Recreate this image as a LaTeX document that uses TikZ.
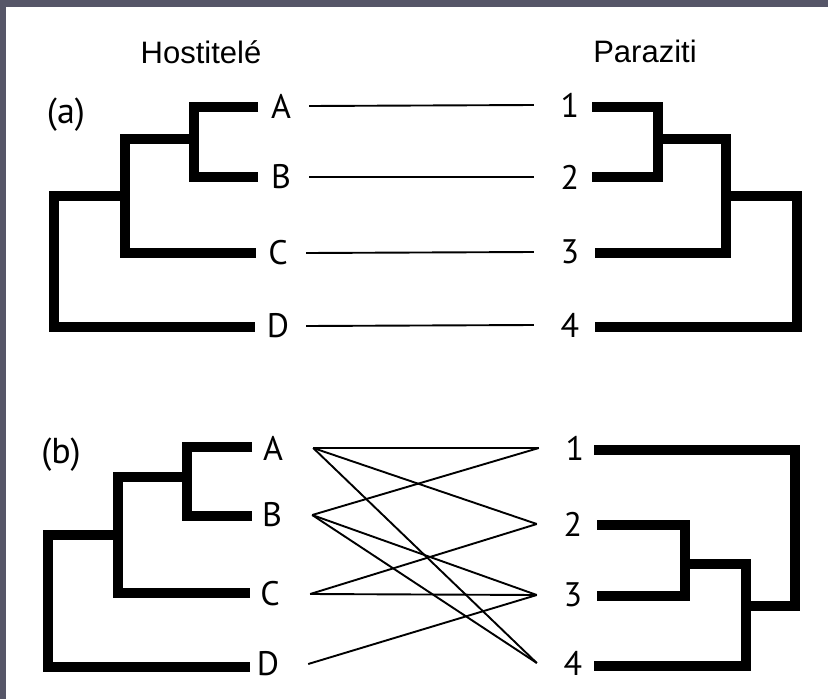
\documentclass[tikz,border=0pt]{standalone}
\usepackage{fontspec}
\setmainfont{PT Sans}
\newfontfamily\titlefont{Liberation Sans}
\definecolor{frame}{RGB}{86,86,104}
\tikzset{
  bar/.style={line width=10pt, line join=miter, line cap=butt, black},
  link/.style={line width=1.9pt, black},
  title/.style={font=\titlefont\fontsize{31}{34}\selectfont, inner sep=0pt},
  panel/.style={font=\fontsize{36}{40}\selectfont, inner sep=0pt},
  taxon/.style={font=\fontsize{34}{38}\selectfont, inner sep=0pt, minimum height=0pt},
  hostA/.style={taxon, minimum width=56pt},
  parA/.style={taxon, minimum width=72pt},
  hostB/.style={taxon, minimum width=80pt},
  parB/.style={taxon, minimum width=72pt}
}
\begin{document}
\begin{tikzpicture}[x=1pt, y=-1pt]
% page and frame
\fill[white] (0,0) rectangle (828,699);
\useasboundingbox (0,0) rectangle (828,699);
\fill[frame] (0,0) rectangle (828,7);
\fill[frame] (0,0) rectangle (6,699);

% headings
\node[title] (hosts) at (201,52) {Hostitelé};
\node[title] (paras) at (645,51) {Paraziti};

% ---------- (a) congruent trees ----------
\node[panel] (pa) at (66,115) {(a)};
\draw[bar] (258,107) -- (194,107) -- (194,177) -- (258,177);
\draw[bar] (194,139) -- (125,139) -- (125,253) -- (256,253);
\draw[bar] (125,196) -- (54,196) -- (54,327) -- (255,327);

\draw[bar] (592,107) -- (658,107) -- (658,177) -- (592,177);
\draw[bar] (658,139) -- (726,139) -- (726,253) -- (595,253);
\draw[bar] (726,196) -- (797,196) -- (797,327) -- (595,327);

\node[hostA] (aA) at (281,106) {A};
\node[hostA] (aB) at (281,177) {B};
\node[hostA] (aC) at (278,253) {C};
\node[hostA] (aD) at (278,326) {D};
\node[parA] (a1) at (570,105) {1};
\node[parA] (a2) at (570,177) {2};
\node[parA] (a3) at (570,252) {3};
\node[parA] (a4) at (570,325) {4};

\draw[link] (aA.east) -- (a1.west);
\draw[link] (aB.east) -- (a2.west);
\draw[link] (aC.east) -- (a3.west);
\draw[link] (aD.east) -- (a4.west);

% ---------- (b) incongruent trees ----------
\node[panel] (pb) at (61,455) {(b)};
\draw[bar] (252,447) -- (187,447) -- (187,516) -- (252,516);
\draw[bar] (187,477) -- (118,477) -- (118,593) -- (250,593);
\draw[bar] (118,535) -- (48,535) -- (48,667) -- (250,667);

\draw[bar] (594,450) -- (795,450) -- (795,606) -- (746,606);
\draw[bar] (597,525) -- (685,525) -- (685,596) -- (597,596);
\draw[bar] (685,564) -- (746,564) -- (746,666) -- (594,666);

\node[hostB] (bA) at (273,448) {A};
\node[hostB] (bB) at (272,515) {B};
\node[hostB] (bC) at (270,594) {C};
\node[hostB] (bD) at (268,664) {D};
\node[parB] (b1) at (575,448) {1};
\node[parB] (b2) at (573,524) {2};
\node[parB] (b3) at (573,595) {3};
\node[parB] (b4) at (573,663) {4};

\draw[link] (bA.east) -- (b1.west);
\draw[link] (bA.east) -- (b2.west);
\draw[link] (bA.east) -- (b4.west);
\draw[link] (bB.east) -- (b1.west);
\draw[link] (bB.east) -- (b3.west);
\draw[link] (bB.east) -- (b4.west);
\draw[link] (bC.east) -- (b2.west);
\draw[link] (bC.east) -- (b3.west);
\draw[link] (bD.east) -- (b3.west);
\end{tikzpicture}
\end{document}
